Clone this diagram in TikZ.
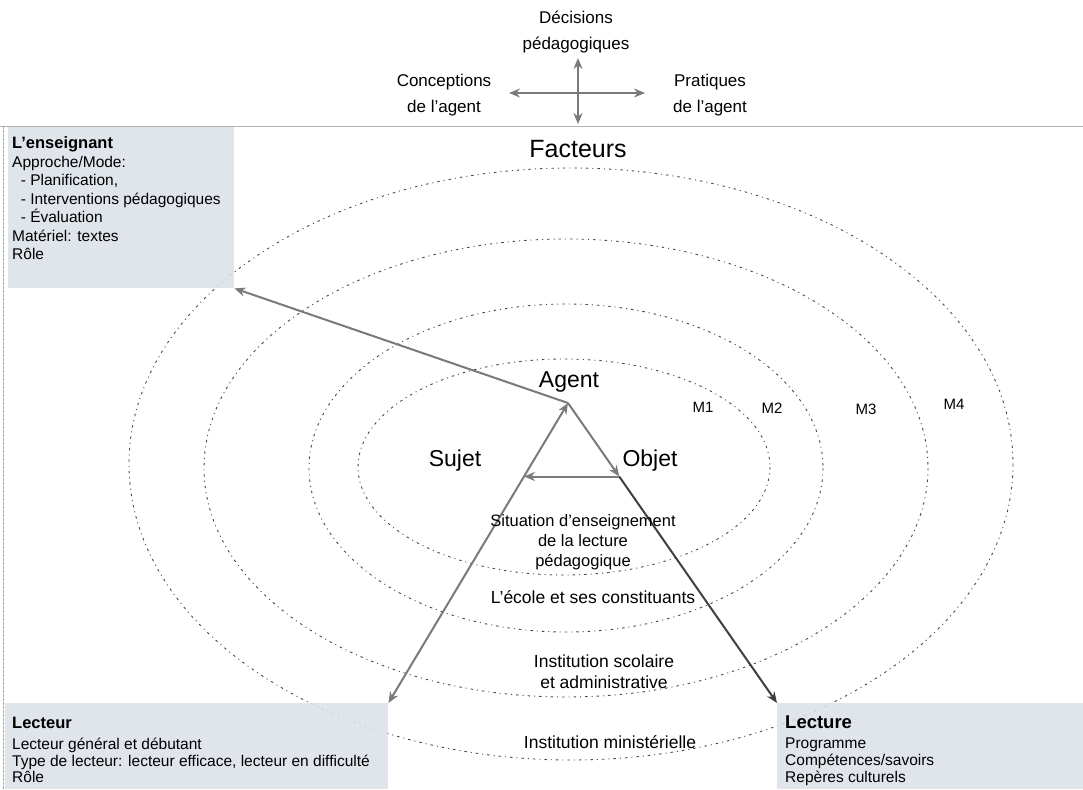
\documentclass[tikz,border=0pt]{standalone}
\usepackage{fontspec}
\setmainfont{Liberation Sans}
\usetikzlibrary{arrows.meta,calc}
\definecolor{boxfill}{HTML}{DCE2E9}
\definecolor{arrowgray}{HTML}{7A7A7A}
\definecolor{ringgray}{HTML}{4A4A4A}
\begin{document}
\begin{tikzpicture}[x=1pt,y=-1pt,
  ring/.style={draw=ringgray, line width=0.9pt, dash pattern=on 2.5pt off 4pt on 1pt off 4pt},
  infobox/.style={fill=boxfill, fill opacity=0.88, draw=none, rectangle, inner sep=0pt, anchor=north west},
  arr/.style={draw=arrowgray, line width=2pt, -{Stealth[length=11pt,width=9pt]}},
  twoway/.style={draw=arrowgray, line width=2pt, {Stealth[length=11pt,width=9pt]}-{Stealth[length=11pt,width=9pt]}},
  hdr/.style={font=\fontsize{17}{26}\selectfont, align=center, inner sep=0pt},
  big/.style={font=\fontsize{25}{27}\selectfont, inner sep=0pt},
  pole/.style={font=\fontsize{23}{25}\selectfont, inner sep=0pt},
  mlabel/.style={font=\fontsize{15}{17}\selectfont, inner sep=0pt},
  mid/.style={font=\fontsize{17.5}{21}\selectfont, align=center, inner sep=0pt},
  boxtitle/.style={font=\bfseries\fontsize{16.5}{18}\selectfont, anchor=base west, inner sep=0pt},
  boxline/.style={font=\fontsize{15.5}{16}\selectfont, anchor=base west, inner sep=0pt},
]
\useasboundingbox (0,0) rectangle (1083,789);
\fill[white] (0,0) rectangle (1083,789);

% frame lines
\draw[gray!60, line width=0.8pt] (0,126) -- (1083,126);
\draw[gray!70, line width=0.8pt, dash pattern=on 3pt off 1pt] (3,126) -- (3,789);

% nested levels M1 to M4
\draw[ring] (564,467) ellipse [x radius=206, y radius=108];
\draw[ring] (566,468) ellipse [x radius=257, y radius=164];
\draw[ring] (566,468) ellipse [x radius=362, y radius=229];
\draw[ring] (571,464) ellipse [x radius=442, y radius=296];

\node[mlabel] (m1) at (703,407) {M1};
\node[mlabel] (m2) at (772,408) {M2};
\node[mlabel] (m3) at (866,409) {M3};
\node[mlabel] (m4) at (954,404) {M4};

% information boxes
\node[infobox, minimum width=226pt, minimum height=161pt] (ens) at (8,127) {};
\node[infobox, minimum width=383pt, minimum height=86pt] (lecteur) at (5,703) {};
\node[infobox, minimum width=306pt, minimum height=86pt] (lecture) at (777,703) {};

\node[boxtitle] (ens-t) at (12,148.5) {L’enseignant};
\foreach \t [count=\i] in {Approche/Mode:, {\ \ - Planification,}, {\ \ - Interventions pédagogiques}, {\ \ - Évaluation}, {Matériel: textes}, Rôle}
  \node[boxline] (ens-\i) at (12,149+\i*18.4) {\t};

\node[boxtitle] (lecteur-t) at (12,728) {Lecteur};
\foreach \t [count=\i] in {Lecteur général et débutant, {Type de lecteur: lecteur efficace, lecteur en difficulté}, Rôle}
  \node[boxline] (lecteur-\i) at (12,733+\i*16.5) {\t};

\node[boxtitle, font=\bfseries\fontsize{18.5}{20}\selectfont] (lecture-t) at (785,728) {Lecture};
\foreach \t [count=\i] in {Programme, Compétences/savoirs, Repères culturels}
  \node[boxline] (lecture-\i) at (785,731+\i*17) {\t};

% top cross of agent dimensions
\node[hdr] (dec) at (576,32) {Décisions\\pédagogiques};
\node[hdr] (conc) at (444,95) {Conceptions\\de l’agent};
\node[hdr] (prat) at (710,95) {Pratiques\\de l’agent};
\coordinate (vtop) at (578,58);
\coordinate (vbot) at (578,124);
\coordinate (hl) at (509,93);
\coordinate (hr) at (645,93);
\draw[twoway] (vtop) -- (vbot);
\draw[twoway] (hl) -- (hr);

\node[big] (fact) at (578,149) {Facteurs};

% triangle
\node[pole] (agent) at (569,382) {Agent};
\node[pole] (sujet) at (455,461) {Sujet};
\node[pole] (objet) at (650,461) {Objet};
\coordinate (apex) at (568,403);
\coordinate (sj) at ($(apex)!0.245!(lecteur.north east)$);
\coordinate (oj) at ($(apex)!0.245!(lecture.north west)$);

\draw[arr] (apex) -- (ens.south east);
\draw[twoway] (lecteur.north east) -- (apex);
\draw[arr] (apex) -- (oj);
\draw[arr, draw=black!75] (oj) -- (lecture.north west);
\draw[arr] (oj) -- (sj);

% level captions
\node[mid, font=\fontsize{16.5}{20}\selectfont] (sit) at (583,542) {Situation d’enseignement\\de la lecture\\pédagogique};
\node[mid] (ecole) at (593,597) {L’école et ses constituants};
\node[mid] (inst) at (604,672) {Institution scolaire\\et administrative};
\node[mid] (mini) at (610,742) {Institution ministérielle};
\end{tikzpicture}
\end{document}
